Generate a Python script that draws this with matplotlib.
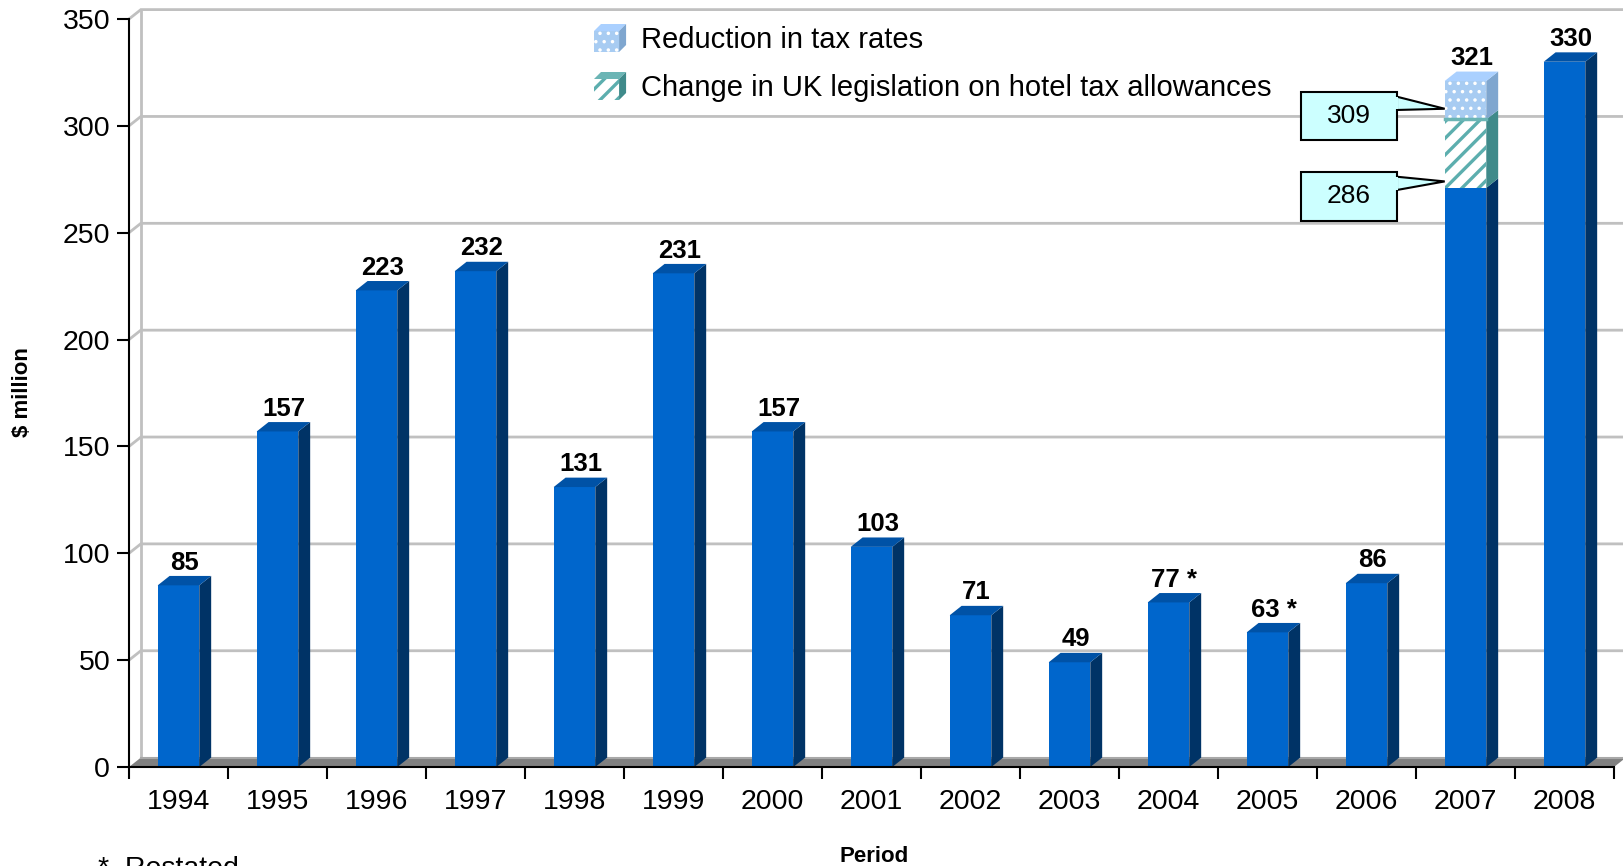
import matplotlib
matplotlib.use('Agg')
import matplotlib.pyplot as plt
from matplotlib.legend_handler import HandlerBase
from matplotlib.patches import Patch, Polygon, Rectangle
import numpy as np

plt.rcParams['font.family'] = ['Liberation Sans', 'DejaVu Sans']

# data
years = ['1994', '1995', '1996', '1997', '1998', '1999', '2000', '2001',
         '2002', '2003', '2004', '2005', '2006', '2007', '2008']
profits = [85, 157, 223, 232, 131, 231, 157, 103, 71, 49, 77, 63, 86, 271, 330]
bar_labels = ['85', '157', '223', '232', '131', '231', '157', '103', '71', '49',
              '77 *', '63 *', '86', '321', '330']
stack_year = '2007'
hotel_allowance_change = 32
tax_rate_reduction = 18
callout_labels = ['309', '286']
legend_labels = ['Reduction in tax rates',
                 'Change in UK legislation on hotel tax allowances']
y_ticks = [0, 50, 100, 150, 200, 250, 300, 350]

# colours
FRONT, TOP, SIDE = '#0066CC', '#0052A6', '#003366'
TEAL, TEAL_SIDE, TEAL_TOP = '#5CAEAE', '#3F8A8A', '#6BB5B5'
LBLUE, LBLUE_SIDE, LBLUE_TOP = '#A8CCF2', '#7FA6CF', '#AAD0FF'
GRID = '#C0C0C0'
CALLOUT = '#CCFFFF'

# pseudo 3d geometry (data units)
W = 0.42
DX, DY = 0.12, 4.4


def hatch_lw(patch, lw):
    if hasattr(patch, 'set_hatch_linewidth'):
        patch.set_hatch_linewidth(lw)


def faces(ax, x, bottom, height, side, top=None, z=3):
    x1 = x + W / 2
    y0, y1 = bottom, bottom + height
    ax.add_patch(Polygon([(x1, y0), (x1 + DX, y0 + DY), (x1 + DX, y1 + DY), (x1, y1)],
                         closed=True, fc=side, ec='none', zorder=z, clip_on=False))
    if top is not None:
        x0 = x - W / 2
        ax.add_patch(Polygon([(x0, y1), (x0 + DX, y1 + DY), (x1 + DX, y1 + DY), (x1, y1)],
                             closed=True, fc=top, ec='none', zorder=z, clip_on=False))


class CubeHandler(HandlerBase):
    def __init__(self, front, top, side, hatch=None, hatch_color='none', lw=1.0):
        super().__init__()
        self.front, self.top, self.side = front, top, side
        self.hatch, self.hatch_color, self.lw = hatch, hatch_color, lw

    def create_artists(self, legend, orig_handle, xdescent, ydescent, width, height, fontsize, trans):
        d = 0.25 * min(width, height)
        x0, y0 = -xdescent, -ydescent
        fw, fh = width - d, height - d
        front = Rectangle((x0, y0), fw, fh, fc=self.front, ec=self.hatch_color, lw=0,
                          hatch=self.hatch, transform=trans)
        hatch_lw(front, self.lw)
        top = Polygon([(x0, y0 + fh), (x0 + d, y0 + height), (x0 + width, y0 + height), (x0 + fw, y0 + fh)],
                      closed=True, fc=self.top, ec='none', transform=trans)
        side = Polygon([(x0 + fw, y0), (x0 + width, y0 + d), (x0 + width, y0 + height), (x0 + fw, y0 + fh)],
                       closed=True, fc=self.side, ec='none', transform=trans)
        return [front, top, side]


fig = plt.figure(figsize=(16.24, 8.66), dpi=100)
ax = fig.add_axes([129 / 1624, 1 - 767 / 866, 1485 / 1624, 748 / 866])

x = np.arange(len(years))
ax.set_xlim(-0.5, len(years) - 0.5)
ax.set_ylim(0, 350)
xl, xr = ax.get_xlim()

# back wall, gridlines and floor
for v in y_ticks[1:]:
    ax.plot([xl, xl + DX, xr + DX + 1], [v, v + DY, v + DY], color=GRID, lw=2,
            zorder=1, clip_on=False, solid_joinstyle='miter')
ax.plot([xl + DX, xl + DX], [DY, 350 + DY], color=GRID, lw=2, zorder=1, clip_on=False)
ax.add_patch(Polygon([(xl, 0), (xr, 0), (xr + DX, DY), (xl + DX, DY)], closed=True,
                     fc='#808080', ec='none', zorder=1.5, clip_on=False))
ax.plot([xl + DX, xr + DX], [DY, DY], color='#A8A8A8', lw=1.5, zorder=1.6, clip_on=False)

# bars
ax.bar(x, profits, width=W, color=FRONT, zorder=3, clip_on=False)
si = years.index(stack_year)
for i, v in enumerate(profits):
    faces(ax, x[i], 0, v, SIDE, None if i == si else TOP)

# 2007 stacked segments
base = profits[si]
seg = ax.bar(x[si], hotel_allowance_change, bottom=base, width=W, color='white',
             edgecolor=TEAL, lw=0, hatch='//', zorder=3)
for p in seg:
    hatch_lw(p, 2.4)
faces(ax, x[si], base, hotel_allowance_change, TEAL_SIDE)
ax.plot([x[si] - W / 2, x[si] + W / 2], [base + hotel_allowance_change] * 2,
        color=TEAL_TOP, lw=2.5, zorder=3.5)
top_base = base + hotel_allowance_change
seg = ax.bar(x[si], tax_rate_reduction, bottom=top_base, width=W, color=LBLUE,
             edgecolor='white', lw=0, hatch='..', zorder=3)
for p in seg:
    hatch_lw(p, 1.3)
faces(ax, x[si], top_base, tax_rate_reduction, LBLUE_SIDE, LBLUE_TOP)

# value labels
totals = list(profits)
totals[si] = top_base + tax_rate_reduction
for i, (v, lab) in enumerate(zip(totals, bar_labels)):
    ax.text(x[i] + DX / 2, v + DY + 3, lab, ha='center', va='baseline',
            fontsize=18.5, fontweight='bold', zorder=6, clip_on=False)

# callouts for the 2007 bar
box_w, box_h = 0.97, 22.6
box_x = x[si] - 1.18
tips = [top_base + 5, base + 3]
box_centres = [304.6, 267.0]
for lab, yc, ty in zip(callout_labels, box_centres, tips):
    bx0, by1 = box_x - box_w / 2, yc + box_h / 2
    bx1 = box_x + box_w / 2
    ax.add_patch(Polygon([(bx1 - 0.02, by1 - 2), (x[si] - W / 2, ty), (bx1 - 0.02, by1 - 8.5)],
                         closed=True, fc=CALLOUT, ec='black', lw=1.5, zorder=7,
                         joinstyle='miter', clip_on=False))
    ax.add_patch(Rectangle((bx0, yc - box_h / 2), box_w, box_h, fc=CALLOUT, ec='black',
                           lw=1.5, zorder=7, clip_on=False))
    ax.add_patch(Rectangle((bx1 - 0.03, by1 - 8.2), 0.04, 5.9, fc=CALLOUT, ec='none', zorder=7.5))
    ax.text(box_x, yc, lab, ha='center', va='center', fontsize=19, zorder=8)

# axes
for s in ['top', 'right']:
    ax.spines[s].set_visible(False)
for s in ['left', 'bottom']:
    ax.spines[s].set_linewidth(1.5)
    ax.spines[s].set_zorder(5)
ax.set_yticks(y_ticks)
ax.tick_params(axis='y', labelsize=20.5, length=8.5, width=1.5, pad=5)
ax.set_xticks(x)
ax.set_xticklabels(years)
ax.set_xticks(np.arange(len(years) + 1) - 0.5, minor=True)
ax.tick_params(axis='x', which='major', labelsize=20.5, length=0, pad=16)
ax.tick_params(axis='x', which='minor', length=8.5, width=1.5)

fig.text(23 / 1624, 1 - 392 / 866, '$ million', rotation=90, ha='center', va='center',
         fontsize=16, fontweight='bold')
fig.text(874 / 1624, 1 - 857 / 866, 'Period', ha='center', va='center',
         fontsize=16, fontweight='bold')
fig.text(98 / 1624, 1 - 856 / 866, '*  Restated', ha='left', va='top', fontsize=20.5)

# legend with little cubes
h1 = Patch(label=legend_labels[0])
h2 = Patch(label=legend_labels[1])
fig.legend(handles=[h1, h2], loc='upper left', bbox_to_anchor=(594 / 1624, 1 - 24 / 866),
           frameon=False, fontsize=21, borderpad=0, borderaxespad=0,
           handlelength=1.1, handleheight=1.1, handletextpad=0.5, labelspacing=0.62,
           handler_map={h1: CubeHandler(LBLUE, LBLUE_TOP, LBLUE_SIDE, '..', 'white', 1.3),
                        h2: CubeHandler('white', TEAL_TOP, TEAL_SIDE, '//', TEAL, 2.4)})

fig.savefig('out.png', dpi=100)
